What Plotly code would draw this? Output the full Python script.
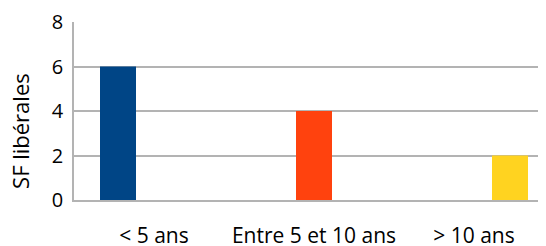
import plotly.graph_objects as go

categories = ["< 5 ans", "Entre 5 et 10 ans", "> 10 ans"]
values = [6, 4, 2]
colors = ["#004586", "#ff420e", "#ffd320"]
y_ticks = [0, 2, 4, 6, 8]
y_title = "SF libérales"

fig = go.Figure()
for i, (cat, val, col) in enumerate(zip(categories, values, colors)):
    ys = [val if j == i else None for j in range(len(categories))]
    fig.add_trace(go.Bar(x=categories, y=ys, marker=dict(color=col, line=dict(width=0)),
                         showlegend=False))

# the page body has an 8px margin, so the figure starts at (8, 8) in the window
fig.update_layout(
    width=546, height=238,
    margin=dict(l=66, r=0, t=14, b=46),
    paper_bgcolor="white", plot_bgcolor="white",
    barmode="group", bargap=0.325, bargroupgap=0,
    font=dict(family="Open Sans, sans-serif", color="#000000"),
)
fig.update_xaxes(
    range=[-0.5, 2.5], showgrid=False, showline=True, linecolor="#b3b3b3", linewidth=1.5,
    ticks="", tickfont=dict(size=21), ticklabelstandoff=16, automargin=False,
)
fig.update_yaxes(
    range=[0, 8], tickvals=y_ticks, showgrid=True, gridcolor="#b3b3b3", gridwidth=1.5,
    showline=True, linecolor="#b3b3b3", linewidth=1.5, ticks="", tickfont=dict(size=20),
    ticklabelstandoff=5, zeroline=False, automargin=False,
)
fig.add_annotation(
    text=y_title, textangle=-90, xref="paper", yref="paper", x=-0.1125, y=0.388,
    xanchor="center", yanchor="middle", showarrow=False, font=dict(size=22),
)
fig.write_html("out.html")
